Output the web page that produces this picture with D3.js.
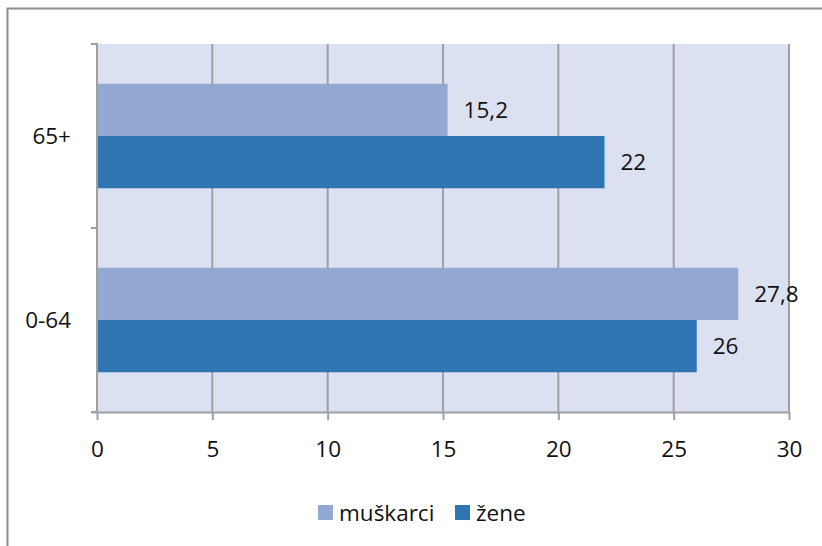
<!DOCTYPE html>
<html>
<head>
<meta charset="utf-8">
<script src="https://cdn.jsdelivr.net/npm/d3@7"></script>
<style>
  html, body { margin: 0; padding: 0; background: #fff; }
  svg { display: block; font-family: "Open Sans", "Noto Sans", sans-serif; }
</style>
</head>
<body>
<svg id="chart" width="822" height="546"></svg>
<script>
// Age groups (top to bottom) and shares per sex
const categories = ["65+", "0-64"];
const seriesNames = ["muškarci", "žene"];
const muskarci = [15.2, 27.8];
const zene = [22, 26];
const xTicks = [0, 5, 10, 15, 20, 25, 30];
const colors = ["#93a9d3", "#2e75b2"];

const svg = d3.select("#chart");
const plot = { left: 97, right: 789, top: 44, bottom: 412 };
const grey = "#a0a0a0";
const fontSize = 22.5;

// outer frame (left and top edges)
svg.append("path")
  .attr("d", "M7.5,546 L7.5,8.5 L822,8.5")
  .attr("fill", "none").attr("stroke", "#8f8f8f").attr("stroke-width", 2);

const x = d3.scaleLinear().domain([0, 30]).range([plot.left, plot.right]);
const y = d3.scaleBand().domain(categories).range([plot.top, plot.bottom]);
const inner = d3.scaleBand().domain(seriesNames)
  .range([0, y.bandwidth()]).paddingOuter(0.76).paddingInner(0);

// plot background
svg.append("rect")
  .attr("x", plot.left).attr("y", plot.top)
  .attr("width", plot.right - plot.left).attr("height", plot.bottom - plot.top)
  .attr("fill", "#dce1f1");

// vertical gridlines
svg.append("g").selectAll("line").data(xTicks.slice(1)).join("line")
  .attr("x1", d => x(d)).attr("x2", d => x(d))
  .attr("y1", plot.top).attr("y2", plot.bottom)
  .attr("stroke", grey).attr("stroke-width", 2);

// bars
const data = categories.flatMap((c, i) => [
  { cat: c, s: seriesNames[0], v: muskarci[i], color: colors[0] },
  { cat: c, s: seriesNames[1], v: zene[i], color: colors[1] }
]);
svg.append("g").selectAll("rect").data(data).join("rect")
  .attr("x", x(0))
  .attr("y", d => y(d.cat) + inner(d.s))
  .attr("width", d => x(d.v) - x(0))
  .attr("height", inner.bandwidth())
  .attr("fill", d => d.color);

// value labels
const fmt = v => String(v).replace(".", ",");
svg.append("g").selectAll("text").data(data).join("text")
  .attr("x", d => x(d.v) + 16)
  .attr("y", d => y(d.cat) + inner(d.s) + inner.bandwidth() / 2)
  .attr("dy", "0.35em")
  .attr("font-size", fontSize).attr("fill", "#111")
  .text(d => fmt(d.v));

// x axis
const xAxis = svg.append("g")
  .attr("transform", `translate(0,${plot.bottom})`)
  .call(d3.axisBottom(x).tickValues(xTicks).tickSize(8).tickPadding(21).tickSizeOuter(0));
xAxis.select(".domain").attr("stroke", grey).attr("stroke-width", 2)
  .attr("d", `M${plot.left - 6},0.5H${plot.right}`);
xAxis.selectAll(".tick line").attr("stroke", grey).attr("stroke-width", 2);
xAxis.selectAll(".tick text").attr("font-size", fontSize).attr("fill", "#111")
  .attr("font-family", "'Open Sans', sans-serif");

// y axis: line with ticks at band boundaries
const yAxis = svg.append("g");
yAxis.append("line")
  .attr("x1", plot.left).attr("x2", plot.left)
  .attr("y1", plot.top - 1).attr("y2", plot.bottom)
  .attr("stroke", grey).attr("stroke-width", 2);
const boundaries = [plot.top, ...categories.slice(1).map(c => y(c)), plot.bottom];
yAxis.selectAll(".yt").data(boundaries).join("line")
  .attr("x1", plot.left - 6).attr("x2", plot.left)
  .attr("y1", d => d).attr("y2", d => d)
  .attr("stroke", grey).attr("stroke-width", 2);
yAxis.selectAll("text").data(categories).join("text")
  .attr("x", 71).attr("y", d => y(d) + y.bandwidth() / 2)
  .attr("dy", "0.35em").attr("text-anchor", "end")
  .attr("font-size", fontSize).attr("fill", "#111")
  .text(d => d);

// legend
const legendItems = [
  { name: seriesNames[0], color: colors[0], x: 318 },
  { name: seriesNames[1], color: colors[1], x: 455 }
];
const lg = svg.append("g").selectAll("g").data(legendItems).join("g")
  .attr("transform", d => `translate(${d.x},513)`);
lg.append("rect").attr("x", 0).attr("y", -8).attr("width", 15).attr("height", 15)
  .attr("fill", d => d.color);
lg.append("text").attr("x", 21).attr("dy", "0.35em")
  .attr("font-size", fontSize).attr("fill", "#111")
  .text(d => d.name);
</script>
</body>
</html>
